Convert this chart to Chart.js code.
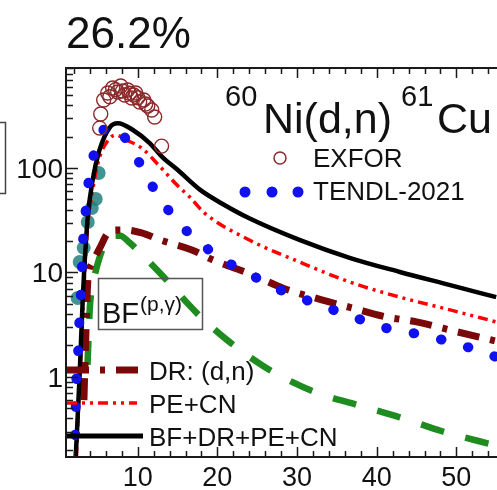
<!DOCTYPE html>
<html>
<head>
<meta charset="utf-8">
<script src="https://cdn.jsdelivr.net/npm/chart.js@4"></script>
<style>
  html, body { margin: 0; padding: 0; background: #fff; }
  canvas { display: block; }
</style>
</head>
<body>
<canvas id="xsChart" width="497" height="490"></canvas>
<script>
// ====== DATA (energy in MeV, cross section in mb) ======
// BF+DR+PE+CN total
const sumEnergy = [2.22, 2.7, 3.1, 3.7, 4.35, 5.2, 6.5, 7.5, 9.4, 11.5, 13.1, 15.0, 17.8, 20.5, 24.0, 30.3, 36.6, 42.9, 49.1, 55.0];
const sumXS = [0.17, 1.0, 5.5, 32, 77, 148, 245, 268, 231, 173, 127, 96, 62, 46, 33, 20.5, 13.8, 10.1, 7.6, 5.8];

// PE+CN
const peEnergy = [2.3, 2.75, 3.15, 3.7, 4.4, 5.2, 6.2, 7.2, 8.6, 10.5, 12.7, 14.9, 16.5, 18.4, 23.7, 30.3, 36.6, 42.9, 49.1, 55.0];
const peXS = [0.17, 1.0, 5, 26, 65, 125, 180, 207, 185, 155, 105, 69, 53, 37, 21, 12.6, 8.1, 5.8, 4.4, 3.36];

// DR: (d,n)
const drEnergy = [3.25, 3.45, 3.75, 4.2, 4.6, 5.3, 6.2, 7.3, 8.4, 10.5, 12.8, 16.8, 19.4, 24.4, 28.2, 33.1, 36.9, 41.2, 45.0, 50.1, 55.0];
const drXS = [0.6, 2.0, 8.5, 12, 13.8, 17.5, 23.5, 25.5, 25.5, 23.9, 20.5, 16.4, 13.2, 9.5, 7.1, 5.46, 4.58, 3.75, 3.36, 2.7, 2.2];

// BF(p,gamma)
const bfEnergy = [3.7, 3.85, 4.0, 4.5, 5.2, 6.0, 6.8, 7.8, 9.0, 10.6, 13.0, 17.4, 21.2, 25.9, 29.3, 32.6, 37.5, 42.9, 48.3, 55.0];
const bfXS = [1.3, 2.6, 4.7, 8.5, 13.8, 19.5, 22.5, 22.5, 19.2, 14.7, 9.5, 4.1, 2.26, 1.25, 0.9, 0.7, 0.54, 0.41, 0.30, 0.22];

// TENDL-2021
const tendlEnergy = [2.0, 2.2, 2.25, 2.45, 2.6, 2.75, 2.95, 3.05, 3.35, 3.6, 4.1, 4.9, 5.8, 7.0, 9.25, 11.1, 13.0, 15.3, 17.8, 21.2, 23.8, 26.8, 30.2, 33.8, 37.4, 40.7, 44.4, 47.8, 51.3, 55.0];
const tendlXS = [0.15, 0.37, 0.72, 1.3, 2.4, 4.6, 8.1, 15.3, 29, 52.7, 95.6, 177, 235, 251, 152, 83.9, 48.5, 29.1, 19.2, 12.6, 9.9, 7.4, 5.8, 4.6, 3.67, 3.0, 2.64, 2.31, 1.94, 1.55];

// EXFOR measurements
const exforEnergy = [5.23, 5.36, 5.73, 6.24, 6.5, 6.86, 7.2, 7.49, 7.87, 8.1, 8.37, 8.75, 9.0, 9.25, 9.5, 9.75, 10.0, 10.25, 10.76, 11.0, 11.26, 11.76, 12.13, 13.0];
const exforXS = [241, 329, 448, 522, 480, 583, 560, 534, 609, 545, 500, 558, 520, 468, 500, 522, 470, 428, 448, 410, 392, 359, 308, 162];

// other measured set on the rising edge
const edgeEnergy = [2.47, 2.72, 3.22, 3.73, 4.23, 4.73, 5.1];
const edgeXS = [5.7, 12.6, 17.2, 30.4, 41.4, 50.5, 89.6];

// axes
const xMin = 1, xMax = 55.1;
const yMin = 0.171, yMax = 906;
const xTickLabels = [10, 20, 30, 40, 50];
const yTickLabels = [1, 10, 100];

// ====== HELPERS ======
const toPoints = (es, vs) => es.map((e, i) => ({ x: e, y: vs[i] }));
const FONT = '"Liberation Sans", Arial, sans-serif';

function curve(data, color, width, dash, extra) {
  return Object.assign({
    data: data,
    showLine: true,
    borderColor: color,
    backgroundColor: color,
    borderWidth: width,
    borderDash: dash,
    pointRadius: 0,
    cubicInterpolationMode: 'monotone',
    fill: false
  }, extra || {});
}

// text with a superscript part, returns x after drawing
function supText(ctx, x, y, base, baseSize, sup, supSize, rise) {
  ctx.font = baseSize + 'px ' + FONT;
  ctx.fillText(base, x, y);
  x += ctx.measureText(base).width;
  if (sup) {
    ctx.font = supSize + 'px ' + FONT;
    ctx.fillText(sup, x + 1, y - rise);
    x += ctx.measureText(sup).width + 1;
  }
  return x;
}

// ====== FRAME, TICKS AND LABELS ======
const framePlugin = {
  id: 'framePlugin',
  afterDraw(chart) {
    const { ctx, chartArea: a, scales } = chart;
    const xs = scales.x, ys = scales.y;
    ctx.save();

    // frame (right side runs off the canvas)
    ctx.strokeStyle = '#1a1a1a';
    ctx.lineWidth = 2;
    ctx.beginPath();
    ctx.moveTo(a.right + 2, a.top);
    ctx.lineTo(a.left, a.top);
    ctx.lineTo(a.left, a.bottom);
    ctx.lineTo(a.right + 2, a.bottom);
    ctx.stroke();

    // inward ticks
    ctx.lineWidth = 1.5;
    ctx.beginPath();
    for (let v = 2; v <= 54; v += 2) {
      const px = Math.round(xs.getPixelForValue(v)) + 0.5;
      const len = v % 10 === 0 ? 10 : 6;
      ctx.moveTo(px, a.bottom); ctx.lineTo(px, a.bottom - len);
      ctx.moveTo(px, a.top); ctx.lineTo(px, a.top + len);
    }
    for (let d = -1; d <= 2; d++) {
      for (let m = 1; m <= 9; m++) {
        const v = m * Math.pow(10, d);
        if (v < yMin || v > yMax) continue;
        const py = Math.round(ys.getPixelForValue(v)) + 0.5;
        const len = m === 1 ? 12 : 7;
        ctx.moveTo(a.left, py); ctx.lineTo(a.left + len, py);
      }
    }
    ctx.stroke();

    // tick labels
    ctx.fillStyle = '#111';
    ctx.font = '27px ' + FONT;
    ctx.textAlign = 'center';
    ctx.textBaseline = 'alphabetic';
    xTickLabels.forEach(v => ctx.fillText(String(v), xs.getPixelForValue(v), 486));
    ctx.textAlign = 'right';
    ctx.font = '28px ' + FONT;
    yTickLabels.forEach(v => ctx.fillText(String(v), 63, ys.getPixelForValue(v) + 10));

    // heading
    ctx.textAlign = 'left';
    ctx.font = '44px ' + FONT;
    ctx.fillText('26.2%', 66, 48);

    // reaction label
    supText(ctx, 225, 106, '60', 29, '', 0, 0);
    supText(ctx, 263, 133, 'Ni(d,n)', 43, '', 0, 0);
    supText(ctx, 401, 106, '61', 29, '', 0, 0);
    supText(ctx, 437, 133, 'Cu', 43, '', 0, 0);

    // upper legend
    ctx.font = '26px ' + FONT;
    ctx.fillText('EXFOR', 313, 167);
    ctx.fillText('TENDL-2021', 313, 200);
    ctx.strokeStyle = '#8a2b2b';
    ctx.lineWidth = 1.5;
    ctx.beginPath();
    ctx.arc(280, 158, 6, 0, Math.PI * 2);
    ctx.stroke();
    ctx.fillStyle = '#1010f0';
    [245, 272, 298].forEach(px => {
      ctx.beginPath();
      ctx.arc(px, 192, 5.5, 0, Math.PI * 2);
      ctx.fill();
    });

    // BF(p,gamma) box
    ctx.strokeStyle = '#555';
    ctx.lineWidth = 1.5;
    ctx.strokeRect(98.5, 278.5, 104, 51);
    ctx.fillStyle = '#111';
    supText(ctx, 102, 323, 'BF', 29, '(p,\u03b3)', 21, 12);

    // lower legend
    const rows = [
      { label: 'DR: (d,n)', y: 370, color: '#7a0808', width: 7, dash: [22, 11, 5, 11], end: 141 },
      { label: 'PE+CN', y: 403, color: '#ff0000', width: 3.5, dash: [10, 5, 3, 5, 3, 5], end: 137 },
      { label: 'BF+DR+PE+CN', y: 436, color: '#000', width: 5, dash: [], end: 143 }
    ];
    rows.forEach(r => {
      ctx.strokeStyle = r.color;
      ctx.lineWidth = r.width;
      ctx.setLineDash(r.dash);
      ctx.beginPath();
      ctx.moveTo(a.left + 1, r.y);
      ctx.lineTo(r.end, r.y);
      ctx.stroke();
      ctx.setLineDash([]);
      ctx.fillStyle = '#111';
      ctx.font = '26px ' + FONT;
      ctx.fillText(r.label, 149, r.y + 10);
    });

    // edge of the neighbouring panel's box
    ctx.strokeStyle = '#444';
    ctx.lineWidth = 1.5;
    ctx.beginPath();
    ctx.moveTo(0, 122.5); ctx.lineTo(5.5, 122.5); ctx.lineTo(5.5, 193.5); ctx.lineTo(0, 193.5);
    ctx.stroke();

    ctx.restore();
  }
};

// ====== CHART ======
new Chart(document.getElementById('xsChart'), {
  type: 'scatter',
  data: {
    datasets: [
      {
        data: toPoints(exforEnergy, exforXS),
        showLine: false,
        pointRadius: 7,
        pointBorderWidth: 1.4,
        pointBorderColor: '#8a2b2b',
        pointBackgroundColor: 'rgba(0,0,0,0)'
      },
      curve(toPoints(tendlEnergy, tendlXS), '#1010f0', 10, [0.5, 27.5], { borderCapStyle: 'round' }),
      curve(toPoints(sumEnergy, sumXS), '#000000', 4.5, []),
      curve(toPoints(peEnergy, peXS), '#ff0000', 3.5, [10, 5, 3, 5, 3, 5]),
      curve(toPoints(drEnergy, drXS), '#7a0808', 7, [22, 11, 5, 11]),
      curve(toPoints(bfEnergy, bfXS), '#1e8c1e', 6.5, [24, 22]),
      {
        data: toPoints(edgeEnergy, edgeXS),
        showLine: false,
        pointRadius: 7,
        pointBorderWidth: 0,
        pointBackgroundColor: 'rgba(35,128,128,0.85)'
      }
    ]
  },
  options: {
    responsive: false,
    devicePixelRatio: 1,
    animation: false,
    layout: { autoPadding: false, padding: { left: 66, top: 68, right: 0, bottom: 33 } },
    plugins: { legend: { display: false }, tooltip: { enabled: false } },
    scales: {
      x: { type: 'linear', min: xMin, max: xMax, display: false },
      y: { type: 'logarithmic', min: yMin, max: yMax, display: false }
    }
  },
  plugins: [framePlugin]
});
</script>
</body>
</html>
